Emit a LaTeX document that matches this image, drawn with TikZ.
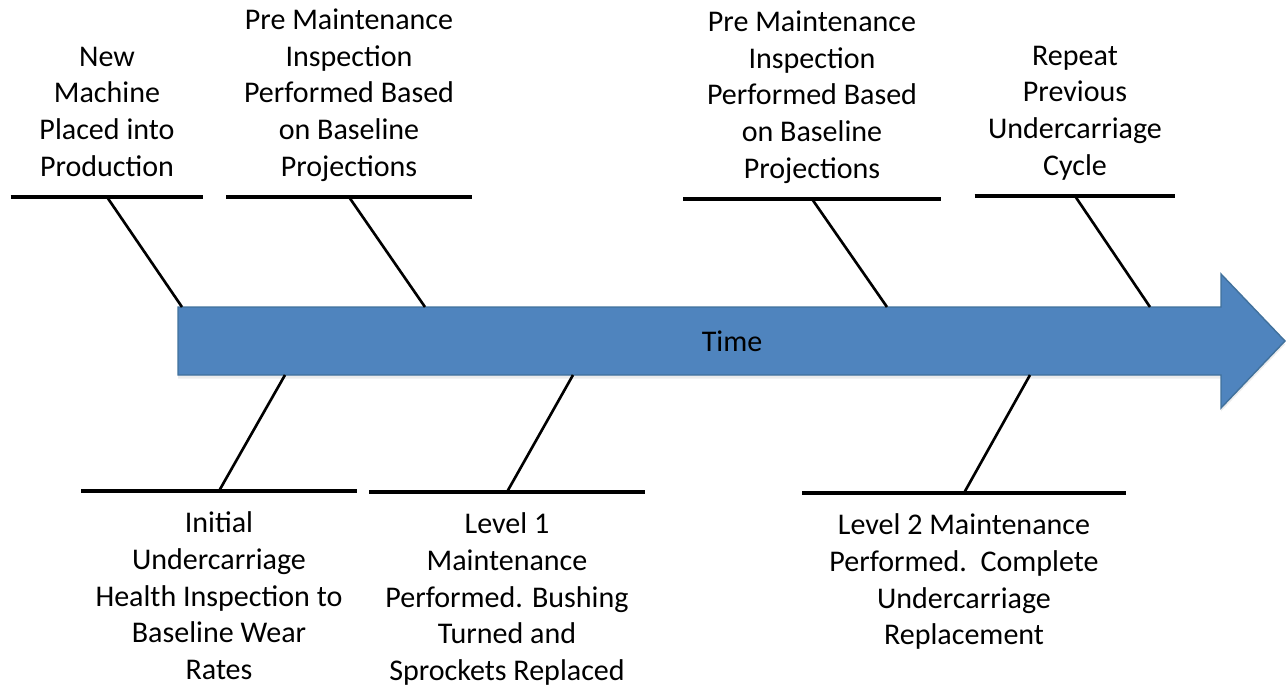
\documentclass[tikz,border=0pt]{standalone}
\usepackage{fontspec}
\setmainfont{Carlito}
\usetikzlibrary{positioning,shadows}
\definecolor{timeblue}{HTML}{4F84BE}
\definecolor{timeedge}{HTML}{41719C}
\tikzset{
    lab/.style = {align=center, inner sep=0pt,
        font=\fontsize{17.1}{20.9}\selectfont},
    toplab/.style = {lab, text depth=0pt},
    botlab/.style = {lab},
    bar/.style = {inner sep=0pt, minimum height=0pt},
    rule/.style = {draw, line width=1.9pt},
    spoke/.style = {draw, line width=1.5pt}
}

\begin{document}
\begin{tikzpicture}[x=0.02cm, y=-0.02cm,
    timearrow/.style={fill=timeblue, draw=timeedge, line width=0.8pt,
        drop shadow={shadow xshift=0pt, shadow yshift=-2pt, opacity=0.15}}
]
\useasboundingbox (0,0) rectangle (1286,686);
% time line
\path[timearrow] (178,307) -- (1221,307) -- (1221,274) -- (1285,341)
    -- (1221,408) -- (1221,375) -- (178,375) -- cycle;
\node[lab] (time) at (732,341) {Time};
\coordinate (a1) at (182,307);
\coordinate (a2) at (425,307);
\coordinate (a3) at (887,307);
\coordinate (a4) at (1150,307);
\coordinate (a5) at (285,375);
\coordinate (a6) at (573,375);
\coordinate (a7) at (1030,375);

% bars under/over the labels
\node[bar, minimum width=3.84cm] (b1) at (107,197) {};
\node[bar, minimum width=4.9cm] (b2) at (349,197) {};
\node[bar, minimum width=5.14cm] (b3) at (812,199) {};
\node[bar, minimum width=4.0cm] (b4) at (1075,196) {};
\node[bar, minimum width=5.5cm] (b5) at (219,491) {};
\node[bar, minimum width=5.5cm] (b6) at (507,492) {};
\node[bar, minimum width=6.46cm] (b7) at (964,493) {};

\node[toplab, above=0.4cm of b1] (l1) {New\\ Machine\\ Placed into\\ Production};
\node[toplab, above=0.4cm of b2] (l2) {Pre Maintenance\\ Inspection\\ Performed Based\\ on Baseline\\ Projections};
\node[toplab, above=0.4cm of b3] (l3) {Pre Maintenance\\ Inspection\\ Performed Based\\ on Baseline\\ Projections};
\node[toplab, above=0.4cm of b4] (l4) {Repeat\\ Previous\\ Undercarriage\\ Cycle};
\node[botlab, below=0.4cm of b5] (l5) {Initial\\ Undercarriage\\ Health Inspection to\\ Baseline Wear\\ Rates};
\node[botlab, below=0.4cm of b6] (l6) {Level 1\\ Maintenance\\ Performed. Bushing\\ Turned and\\ Sprockets Replaced};
\node[botlab, below=0.4cm of b7] (l7) {Level 2 Maintenance\\ Performed.~~Complete\\ Undercarriage\\ Replacement};

\draw[rule] (b1.west) -- (b1.east);
\draw[rule] (b2.west) -- (b2.east);
\draw[rule] (b3.west) -- (b3.east);
\draw[rule] (b4.west) -- (b4.east);
\draw[rule] (b5.west) -- (b5.east);
\draw[rule] (b6.west) -- (b6.east);
\draw[rule] (b7.west) -- (b7.east);
\draw[spoke] (a1) -- (b1.center);
\draw[spoke] (a2) -- (b2.center);
\draw[spoke] (a3) -- (b3.center);
\draw[spoke] (a4) -- (b4.center);
\draw[spoke] (a5) -- (b5.center);
\draw[spoke] (a6) -- (b6.center);
\draw[spoke] (a7) -- (b7.center);
\end{tikzpicture}
\end{document}
